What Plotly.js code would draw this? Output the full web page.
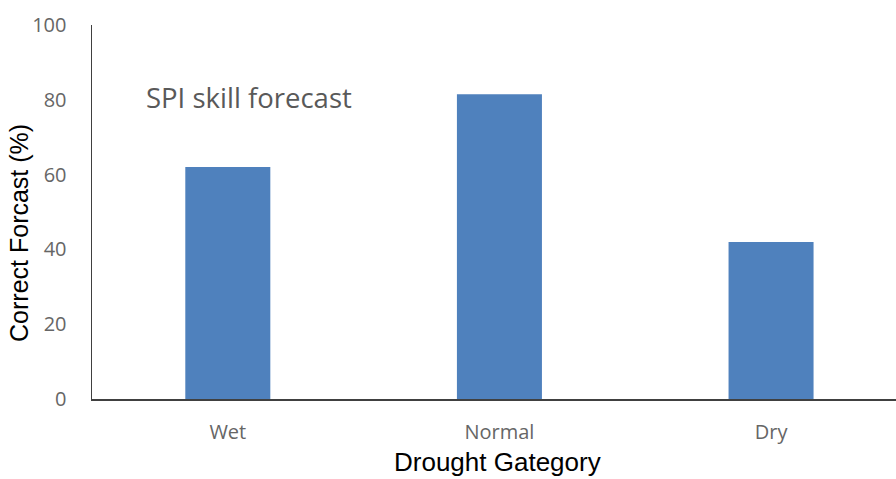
<!DOCTYPE html>
<html>
<head>
<meta charset="utf-8">
<script src="https://cdn.plot.ly/plotly-3.0.1.min.js"></script>
<style>html,body{margin:0;padding:0;background:#fff;}#chart{width:896px;height:479px;}</style>
</head>
<body>
<div id="chart"></div>
<script>
const categories = ["Wet", "Normal", "Dry"];
const correctForecast = [62, 81.5, 42];
const yTicks = [0, 20, 40, 60, 80, 100];
const chartLabel = "SPI skill forecast";
const xTitle = "Drought Gategory";
const yTitle = "Correct Forcast (%)";

const trace = {
  type: "bar",
  x: categories,
  y: correctForecast,
  marker: {color: "#4F81BD"},
  hoverinfo: "x+y"
};

const layout = {
  width: 896, height: 479,
  margin: {l: 92, r: 0, t: 25, b: 80},
  paper_bgcolor: "#fff", plot_bgcolor: "#fff",
  showlegend: false,
  bargap: 0.687,
  xaxis: {
    type: "category",
    range: [-0.5, 2.46],
    showgrid: false, zeroline: false,
    showline: true, linecolor: "#404040", linewidth: 1.5,
    ticks: "",
    ticklabelstandoff: 14,
    tickfont: {family: "Open Sans", size: 20, color: "#666666"}
  },
  yaxis: {
    range: [0, 100],
    tickvals: yTicks,
    ticktext: yTicks.map(String),
    showgrid: false, zeroline: false,
    showline: true, linecolor: "#404040", linewidth: 1.5,
    ticks: "",
    ticklabelstandoff: 20,
    tickfont: {family: "Open Sans", size: 20, color: "#666666"}
  },
  annotations: [
    {text: chartLabel, xref: "x", yref: "y", x: -0.31, y: 80.5,
     xanchor: "left", yanchor: "middle", showarrow: false,
     font: {family: "Open Sans", size: 27.5, color: "#595959"}},
    {text: xTitle, xref: "paper", yref: "paper", x: 0.504, y: -0.168,
     xanchor: "center", yanchor: "middle", showarrow: false,
     font: {family: "Liberation Sans, Arial", size: 26, color: "#000"}},
    {text: yTitle, xref: "paper", yref: "paper", x: -0.0908, y: 0.444,
     xanchor: "center", yanchor: "middle", showarrow: false, textangle: -90,
     font: {family: "Liberation Sans, Arial", size: 25, color: "#000"}}
  ]
};

Plotly.newPlot("chart", [trace], layout, {displayModeBar: false, staticPlot: true});
</script>
</body>
</html>
